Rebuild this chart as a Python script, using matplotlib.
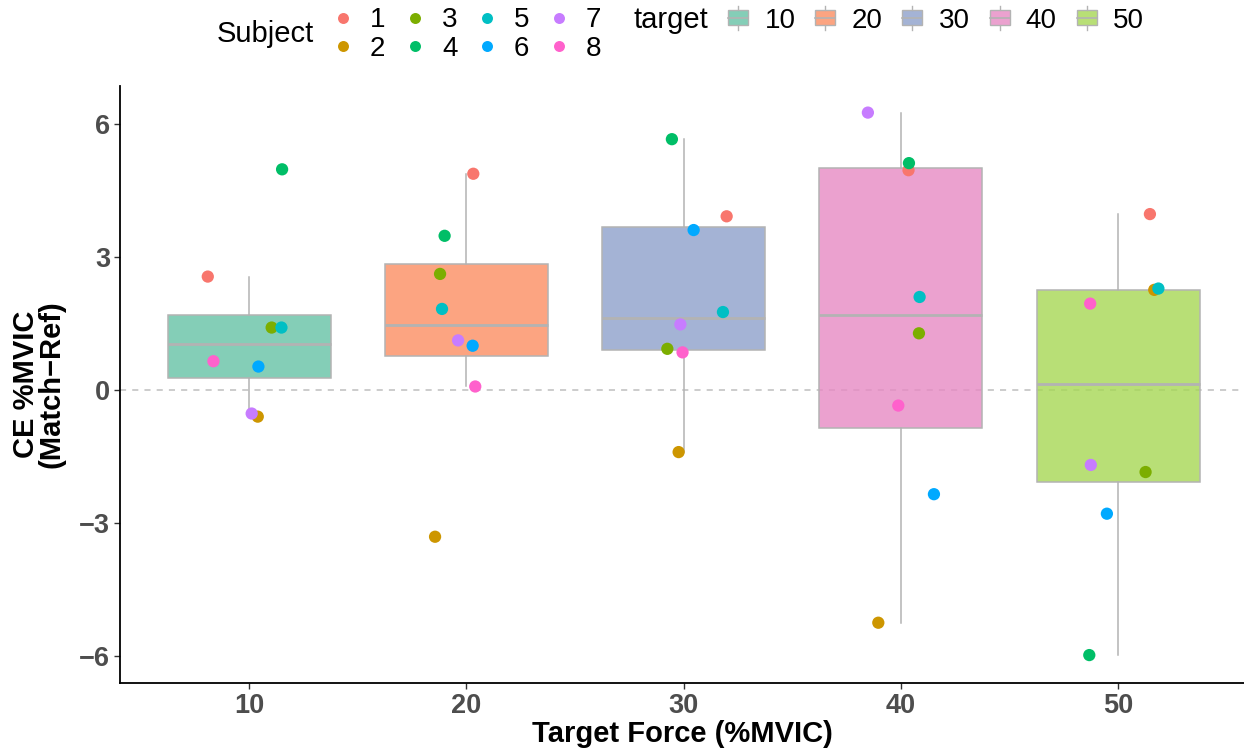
import matplotlib
matplotlib.use('Agg')
import matplotlib.pyplot as plt
from matplotlib.lines import Line2D
from matplotlib.patches import Rectangle
from matplotlib.legend_handler import HandlerBase
import numpy as np

plt.rcParams['font.family'] = ['Liberation Sans', 'DejaVu Sans']

# data
targets = [10, 20, 30, 40, 50]
subjects = ['1', '2', '3', '4', '5', '6', '7', '8']
# CE values per target, subject 1..8
ce_10 = [2.56, -0.60, 1.41, 4.98, 1.41, 0.53, -0.53, 0.65]
ce_20 = [4.88, -3.31, 2.62, 3.48, 1.83, 1.00, 1.12, 0.08]
ce_30 = [3.92, -1.40, 0.93, 5.66, 1.76, 3.61, 1.48, 0.85]
ce_40 = [4.96, -5.25, 1.28, 5.12, 2.10, -2.35, 6.26, -0.35]
ce_50 = [3.97, 2.26, -1.85, -5.98, 2.29, -2.79, -1.69, 1.95]
# jittered x position of each point
jx_10 = [8.10, 10.40, 11.04, 11.52, 11.49, 10.43, 10.12, 8.36]
jx_20 = [20.32, 18.56, 18.79, 19.00, 18.88, 20.29, 19.62, 20.41]
jx_30 = [31.98, 29.77, 29.25, 29.46, 31.81, 30.46, 29.85, 29.95]
jx_40 = [40.35, 38.96, 40.83, 40.37, 40.86, 41.52, 38.48, 39.88]
jx_50 = [51.46, 51.66, 51.26, 48.67, 51.85, 49.48, 48.74, 48.71]

ce = [ce_10, ce_20, ce_30, ce_40, ce_50]
jx = [jx_10, jx_20, jx_30, jx_40, jx_50]

subj_colors = ['#F8766D', '#CD9600', '#7CAE00', '#00BE67',
               '#00BFC4', '#00A9FF', '#C77CFF', '#FF61CC']
box_colors = ['#66C2A5', '#FC8D62', '#8DA0CB', '#E78AC3', '#A6D854']
grey = '#B3B3B3'

fig = plt.figure(figsize=(12.44, 7.55), dpi=100)
ax = fig.add_axes([120 / 1244, 72 / 755, 1 - 120 / 1244, (683 - 86) / 755])

ax.axhline(0, color='#BEBEBE', lw=1.1, ls=(0, (4, 4)), zorder=1)

bp = ax.boxplot(ce, positions=targets, widths=7.5, patch_artist=True,
                showfliers=False, whis=1.5, manage_ticks=False,
                medianprops=dict(color=grey, lw=2.0),
                whiskerprops=dict(color=grey, lw=1.1),
                capprops=dict(lw=0),
                boxprops=dict(edgecolor=grey, lw=1.1))
for patch, c in zip(bp['boxes'], box_colors):
    patch.set_facecolor(matplotlib.colors.to_rgba(c, 0.8))
for el in bp['boxes'] + bp['whiskers'] + bp['medians']:
    el.set_zorder(2)

for t in range(len(targets)):
    for s in range(len(subjects)):
        ax.scatter(jx[t][s], ce[t][s], s=78, color=subj_colors[s],
                   edgecolors='none', zorder=3)

ax.set_xlim(4.06, 55.79)
ax.set_ylim(-6.61, 6.86)
ax.set_xticks(targets)
ax.set_yticks([-6, -3, 0, 3, 6])
ax.set_yticklabels(['\u22126', '\u22123', '0', '3', '6'])
for sp in ['top', 'right']:
    ax.spines[sp].set_visible(False)
for sp in ['left', 'bottom']:
    ax.spines[sp].set_linewidth(1.3)
ax.tick_params(length=4, width=1, color='#333333', labelsize=19.5,
               labelcolor='#4D4D4D', pad=3)
for lab in ax.get_xticklabels() + ax.get_yticklabels():
    lab.set_fontweight('bold')
ax.set_xlabel('Target Force (%MVIC)', fontsize=21, fontweight='bold', labelpad=1)
ax.set_ylabel('CE %MVIC\n(Match\u2212Ref)', fontsize=21, fontweight='bold',
              labelpad=10, linespacing=0.88)


class BoxKey(HandlerBase):
    # ggplot-style boxplot key: box, median line and short whiskers
    def create_artists(self, legend, orig, xd, yd, w, h, fontsize, trans):
        fc = orig.get_facecolor()
        cx = xd + w / 2
        cy = yd + h / 2
        bw = w * 0.9
        bh = 10.8
        r = Rectangle((cx - bw / 2, cy - bh / 2), bw, bh, facecolor=fc,
                      edgecolor=grey, lw=1.0, transform=trans)
        m = Line2D([cx - bw / 2, cx + bw / 2], [cy, cy],
                   color=grey, lw=1.2, transform=trans)
        w1 = Line2D([cx, cx], [cy + bh / 2, cy + 8.6], color=grey, lw=1,
                    transform=trans)
        w2 = Line2D([cx, cx], [cy - 8.6, cy - bh / 2], color=grey, lw=1,
                    transform=trans)
        return [w1, w2, r, m]


subj_handles = [Line2D([], [], ls='none', marker='o', ms=7.9,
                       markerfacecolor=c, markeredgecolor='none')
                for c in subj_colors]
leg1 = fig.legend(subj_handles, subjects, ncol=4, loc='center left',
                  bbox_to_anchor=(332 / 1244, 1 - 34.5 / 755), frameon=False,
                  fontsize=20, handlelength=0.8, handletextpad=0.57,
                  columnspacing=0.66, labelspacing=0.08, borderpad=0,
                  borderaxespad=0)
fig.text(217 / 1244, 1 - 34 / 755, 'Subject', fontsize=21, va='center',
         ha='left')

box_handles = [Rectangle((0, 0), 1, 1, facecolor=matplotlib.colors.to_rgba(c, 0.8))
               for c in box_colors]
leg2 = fig.legend(box_handles, [str(t) for t in targets], ncol=5,
                  loc='center left', bbox_to_anchor=(727.2 / 1244, 1 - 20.5 / 755),
                  frameon=False, fontsize=20, handlelength=0.8,
                  handletextpad=0.54, columnspacing=0.68, borderpad=0,
                  borderaxespad=0,
                  handler_map={Rectangle: BoxKey()})
fig.text(633 / 1244, 1 - 20.5 / 755, 'target', fontsize=21, va='center',
         ha='left')

fig.savefig('out.png', dpi=100)
